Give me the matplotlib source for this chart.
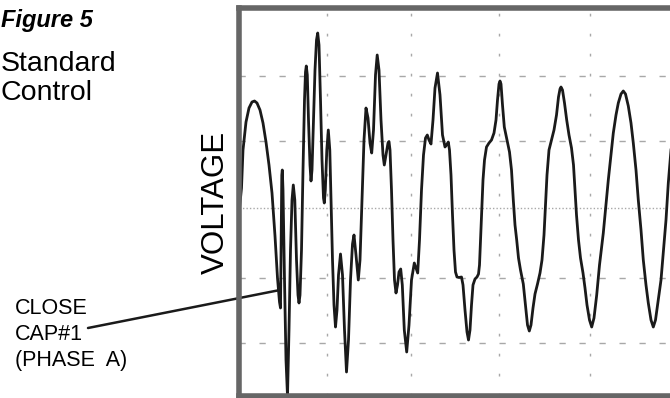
import matplotlib
matplotlib.use("Agg")
import matplotlib.pyplot as plt

plt.rcParams['font.family'] = ['Liberation Sans', 'DejaVu Sans']
plt.rcParams['lines.scale_dashes'] = False

# scope trace (t: samples, v: counts, 1 div ~ 67 counts)
t = [-4, -0.5, 1, 4, 7, 10, 12.5, 15, 18, 21, 24, 27, 30, 33, 35.5, 37.5, 38.5,
     39.2, 39.8, 40.3, 41, 42.5, 44, 45.5, 47, 48.5, 50, 51.3, 52.8, 54.5, 56,
     57, 58, 59.5, 61, 62.5, 63.5, 64.3, 65.3, 66.5, 68, 69, 70, 71.5, 73, 74.5,
     75.7, 77, 78.5, 80, 81.5, 82.3, 83.3, 84.8, 86.3, 87.8, 89, 90.5, 92, 93.5,
     95, 96.5, 98.5, 100.5, 102.5, 104.5, 106.5, 108.5, 110.5, 112, 114, 116.3,
     118, 120, 122, 124, 126, 128, 129.7, 131.5, 133.5, 135.2, 137, 139, 141,
     142.3, 144, 146, 147, 148, 149.5, 151, 152.5, 154, 155.5, 157, 158.7, 160.3,
     162.3, 164.7, 167, 169.5, 172.3, 174, 175.7, 177.5, 179.5, 181.5, 183.5,
     185.3, 187, 189, 191, 193, 195.5, 198, 200.5, 203, 204.5, 206.3, 207.5, 209,
     210.5, 212, 213.5, 215, 217, 219.5, 221, 223, 225, 226.5, 228, 229.5, 231,
     233, 235, 236.5, 237.5, 238.5, 239.7, 241, 242.5, 244.5, 247, 249.5, 252,
     254, 255.5, 257, 258, 259, 260.5, 262.3, 265, 267.5, 269.5, 271.3, 273,
     274.7, 276.5, 278.5, 281.3, 283.5, 285.5, 287.3, 289, 291, 293, 295.5, 298,
     300, 302, 303.5, 305, 307, 309.5, 312, 314.5, 316.5, 318, 319, 320.5, 322.5,
     324.7, 327, 329.5, 331.5, 333, 334.5, 336.5, 338.5, 341, 343, 345, 347.5,
     349.7, 352, 354.7, 357.5, 361.3, 364, 366.3, 369, 371.3, 374, 376.3, 379,
     381.3, 383.5, 386.3, 389, 391.3, 394, 396.3, 399, 401.3, 404, 406.3, 409,
     411.3, 413.5, 416.3, 419, 421.3, 424, 426.3, 429, 433]
v = [-15, 20, 58, 86, 100, 106, 107, 105, 98, 85, 66, 43, 15, -28, -70, -94, -100,
     -32, 33, 38, 18, -72, -152, -188, -122, -42, 8, 23, 8, -52, -87,
     -95, -87, -42, 38, 108, 136, 142, 133, 88, 43, 27, 38, 88, 138, 168,
     175, 163, 108, 48, 10, 5, 18, 58, 78, 58, 8, -52, -97, -119,
     -102, -67, -46, -67, -122, -164, -132, -72, -36, -27, -47, -72,
     -52, 8, 68, 100, 90, 65, 55, 78, 133, 153, 138, 88, 53,
     43, 53, 65, 66.5, 58, 18, -32, -72, -85, -77, -64, -61, -77,
     -122, -144, -117, -72, -55, -60, -65, -32, 18, 53, 70,
     73, 68, 64, 88, 120, 135, 113, 73, 61, 63, 66, 58, 33,
     -7, -42, -64, -69, -69.5, -69, -77, -102, -124, -132, -122, -97, -77,
     -71, -69, -66, -57, -32, 0, 28, 48, 61, 65, 68, 75,
     88, 108, 124, 127, 124, 103, 81, 68, 56, 38, 8, -17,
     -32, -50, -62, -76, -97, -117, -123, -117, -100, -86, -76, -65,
     -52, -27, 3, 33, 58, 68, 78, 93, 111, 119, 121, 118, 105,
     88, 73, 60, 43, 18, -7, -32, -50, -65, -80, -97, -112,
     -119, -110, -87, -57, -25, 3, 28, 53, 75, 93, 105, 114,
     117, 114, 102, 85, 65, 38, 8, -22, -52, -77, -95, -112,
     -119, -112, -92, -72, -45, -12, 25, 58, 98]

h_lines = [132, 67, -70, -135]
v_lines = [85, 169, 257, 348]

fig = plt.figure(figsize=(6.7, 3.98), dpi=100)
W, H = 670, 398

ax = fig.add_axes([239 / W, 2.5 / H, 464.5 / W, 387.2 / H])
ax.set_xlim(-3, 461.5)
ax.set_ylim(-187.5, 199.7)

for y in h_lines:
    ax.axhline(y, color='#a8a8a8', lw=1.0, ls=(0, (4.5, 9.9)), zorder=1)
ax.axhline(0, color='#a8a8a8', lw=1.0, ls=(0, (1.0, 1.5)), zorder=1)
for x in v_lines:
    ax.axvline(x, color='#a8a8a8', lw=1.0, ls=(0, (2.0, 12.4)), zorder=1)

ax.plot(t, v, color='#1a1a1a', lw=2.0, solid_joinstyle='round', zorder=3)

for s in ax.spines.values():
    s.set_color('#666666')
    s.set_linewidth(4.0)
    s.set_zorder(5)
ax.set_xticks([])
ax.set_yticks([])

def fx(x):
    return x / W

def fy(y):
    return 1 - y / H

fig.text(fx(1), fy(27), 'Figure 5', fontsize=17, fontweight='bold',
         fontstyle='italic', va='baseline', ha='left')
fig.text(fx(1), fy(71), 'Standard', fontsize=20.5, va='baseline', ha='left')
fig.text(fx(1), fy(100), 'Control', fontsize=20.5, va='baseline', ha='left')
fig.text(fx(216), fy(202), 'VOLTAGE', fontsize=22.5, rotation=90,
         va='center', ha='center')

for i, line in enumerate(['CLOSE', 'CAP#1', '(PHASE  A)']):
    fig.text(fx(15), fy(314 + i * 26), line, fontsize=15.5, va='baseline', ha='left')

ax.annotate('', xy=(38, -82), xycoords='data',
            xytext=(88, H - 328), textcoords='figure pixels',
            arrowprops=dict(arrowstyle='-', lw=1.8, color='#1a1a1a',
                            shrinkA=0, shrinkB=0),
            annotation_clip=False)

fig.savefig('out.png', dpi=100)
